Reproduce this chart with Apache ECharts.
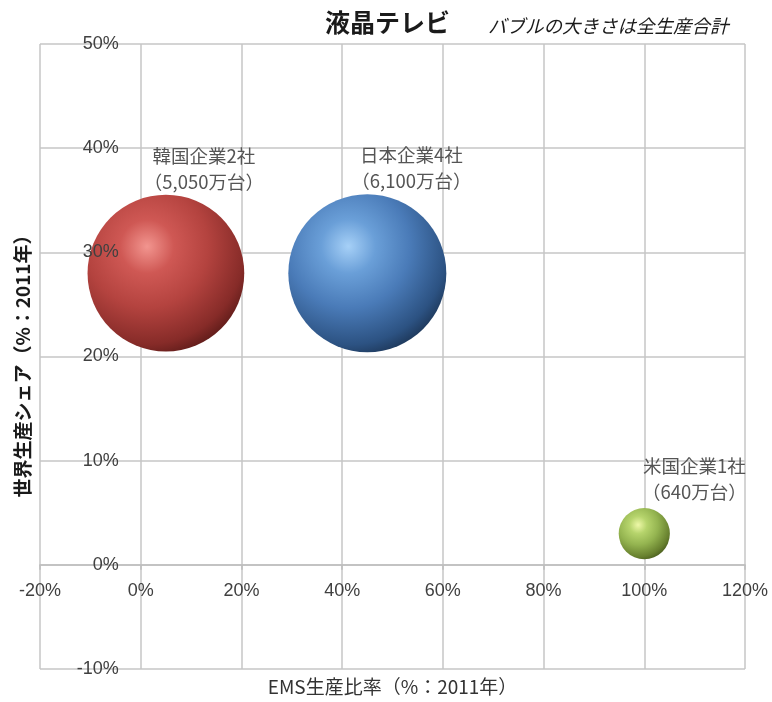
<!DOCTYPE html>
<html>
<head>
<meta charset="utf-8">
<script src="https://cdn.jsdelivr.net/npm/echarts@6/dist/echarts.min.js"></script>
<style>
html,body{margin:0;padding:0;background:#fff;}
#chart{width:772px;height:702px;}
</style>
</head>
<body>
<div id="chart"></div>
<script>
// ---- data ----
const groups = ['韓国企業2社', '日本企業4社', '米国企業1社'];
const emsRatio = [5, 45, 100];          // x: EMS生産比率 (%)
const worldShare = [28, 28, 3];         // y: 世界生産シェア (%)
const unitsLabel = ['5,050', '6,100', '640']; // 万台 (label text)
const bubbleSize = [6000, 6100, 640];   // bubble area (万台)
const xTicks = { min: -20, max: 120, interval: 20 };
const yTicks = { min: -10, max: 50, interval: 10 };

// ---- styles ----
const palettes = [
  ['#f2958f', '#cf5854', '#b4433f', '#862b28', '#461210'],
  ['#a6d0f7', '#6a9fd8', '#4a7bb8', '#2c5282', '#14263f'],
  ['#eef8a8', '#b6d46c', '#94b450', '#67802e', '#3a4915']
];
const labelOffsets = [[38, 0], [44, 0], [50, -3]];

function sphere(p) {
  return {
    type: 'radial', x: 0.38, y: 0.33, r: 0.78,
    colorStops: [
      { offset: 0, color: p[0] },
      { offset: 0.22, color: p[1] },
      { offset: 0.5, color: p[2] },
      { offset: 0.8, color: p[3] },
      { offset: 1, color: p[4] }
    ]
  };
}

const data = groups.map((g, i) => ({
  name: g,
  value: [emsRatio[i], worldShare[i], bubbleSize[i]],
  itemStyle: { color: sphere(palettes[i]) },
  label: { offset: labelOffsets[i] }
}));

const W = 772, H = 702;
const gridLeft = 40, gridRight = 27, gridTop = 44, gridBottom = 33;
const plotW = W - gridLeft - gridRight;
const plotH = H - gridTop - gridBottom;
// axes cross at (0, 0)
const yAxisOffset = -plotW * (0 - xTicks.min) / (xTicks.max - xTicks.min);
const xAxisOffset = -plotH * (0 - yTicks.min) / (yTicks.max - yTicks.min);

const gridColor = '#c6c6c6';
const labelFont = { fontFamily: 'Liberation Sans', fontSize: 18, color: '#404040' };
const chart = echarts.init(document.getElementById('chart'), null, { renderer: 'canvas' });
chart.setOption({
  animation: false,
  backgroundColor: '#ffffff',
  title: [
    { text: '液晶テレビ', left: 320, top: 5,
      textStyle: { fontFamily: 'Noto Sans CJK JP', fontSize: 25, fontWeight: 'bold', color: '#1a1a1a' } },
    { text: 'バブルの大きさは全生産合計', left: 483, top: 12,
      textStyle: { fontFamily: 'Noto Sans CJK JP', fontSize: 18.5, fontStyle: 'italic', fontWeight: 'normal', color: '#1a1a1a' } }
  ],
  grid: { left: gridLeft, right: gridRight, top: gridTop, bottom: gridBottom, containLabel: false, outerBoundsMode: 'none' },
  xAxis: {
    type: 'value', min: xTicks.min, max: xTicks.max, interval: xTicks.interval,
    offset: xAxisOffset,
    name: 'EMS生産比率（%：2011年）', nameLocation: 'middle', nameGap: 112,
    nameTextStyle: { fontFamily: 'Noto Sans CJK JP', fontSize: 19, color: '#333' },
    axisLine: { onZero: false, lineStyle: { color: '#bdbdbd', width: 1.5 } },
    axisTick: { show: true, length: 5, lineStyle: { color: '#bdbdbd', width: 1.5 } },
    axisLabel: Object.assign({ formatter: '{value}%', margin: 17 }, labelFont),
    splitLine: { show: true, lineStyle: { color: gridColor, width: 1.5 } }
  },
  yAxis: [{
    type: 'value', min: yTicks.min, max: yTicks.max, interval: yTicks.interval,
    offset: yAxisOffset,
    name: '世界生産シェア（%：2011年）', nameLocation: 'middle', nameGap: 108,
    nameTextStyle: { fontFamily: 'Noto Sans CJK JP', fontSize: 19, fontWeight: 'bold', color: '#1a1a1a', padding: [0, 10, 0, 0] },
    axisLine: { show: false, onZero: false },
    axisTick: { show: false },
    axisLabel: { show: false },
    splitLine: { show: true, lineStyle: { color: gridColor, width: 1.5 } }
  }, {
    // label-only copy, drawn above the bubbles like the reference
    type: 'value', min: yTicks.min, max: yTicks.max, interval: yTicks.interval,
    position: 'left', offset: yAxisOffset, z: 10,
    axisLine: { show: false, onZero: false },
    axisTick: { show: false },
    splitLine: { show: false },
    axisLabel: Object.assign({ formatter: '{value}%', margin: 22 }, labelFont)
  }],
  series: [{
    type: 'scatter',
    yAxisIndex: 0,
    data: data,
    symbolSize: v => 158 * Math.sqrt(v[2] / bubbleSize[1]),
    itemStyle: { opacity: 1 },
    label: {
      show: true, position: 'top', distance: 0,
      formatter: p => p.name + '\n（' + unitsLabel[p.dataIndex] + '万台）',
      fontFamily: 'Noto Sans CJK JP', fontSize: 18.5, lineHeight: 26, color: '#555', align: 'center'
    }
  }]
});
</script>
</body>
</html>
